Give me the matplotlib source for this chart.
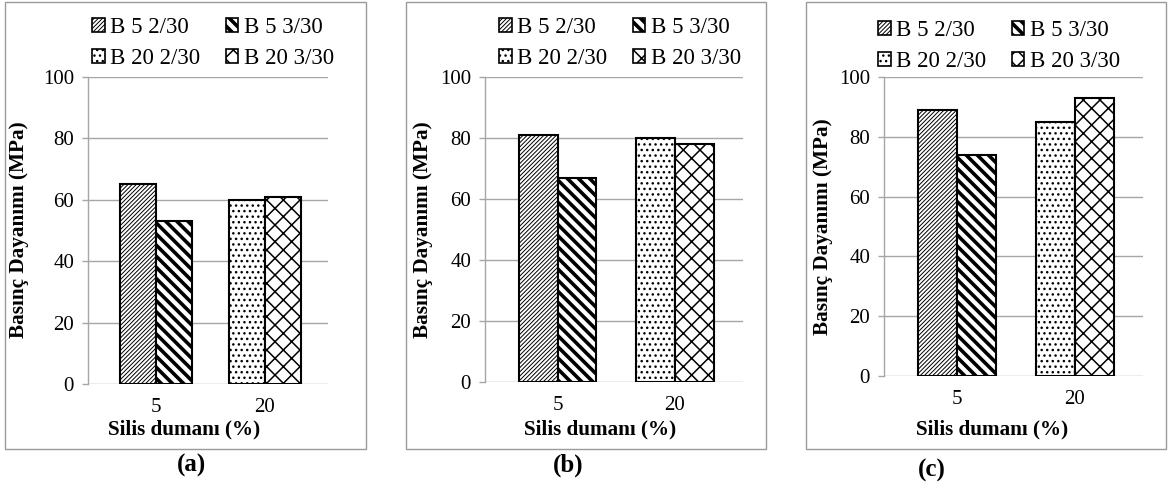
import matplotlib
matplotlib.use('Agg')
import matplotlib.pyplot as plt
from matplotlib.patches import Rectangle

plt.rcParams['font.family'] = ['Liberation Serif', 'DejaVu Serif']

# ---------------- data ----------------
categories = ['5', '20']
series_names = ['B 5 2/30', 'B 5 3/30', 'B 20 2/30', 'B 20 3/30']
panel_labels = ['(a)', '(b)', '(c)']
b5_2_30 = [65, 81, 89]
b5_3_30 = [53, 67, 74]
b20_2_30 = [60, 80, 85]
b20_3_30 = [61, 78, 93]
yticks = [0, 20, 40, 60, 80, 100]
xlabel_text = 'Silis dumanı (%)'
ylabel_text = 'Basınç Dayanımı (MPa)'

# ---------------- layout (pixels) ----------------
W, H = 1168, 488
axes_px = [(88, 328, 77, 384), (485, 743, 77, 382), (884, 1143, 77, 376)]
boxes_px = [(5, 366, 2, 449), (406, 766, 2, 449), (806, 1166, 2, 449)]
legend_center_px = [(213, 43), (620, 43), (999, 46)]
ylabel_px = [(19, 230), (423, 230), (823, 227)]
xlabel_px = [(184, 429), (600, 429), (992, 429)]
caption_px = [(192, 465), (568, 465), (932, 470)]

hatches = ['////////', '\\\\\\', '...', 'xx']
hatch_lws = [0.7, 2.6, 1.0, 1.1]
bar_w = 0.33
grid_col = '#a6a6a6'

fig = plt.figure(figsize=(W / 100, H / 100), dpi=100)

for i in range(3):
    l, r, t, b = axes_px[i]
    ax = fig.add_axes([l / W, 1 - b / H, (r - l) / W, (b - t) / H])
    vals = [b5_2_30[i], b5_3_30[i], b20_2_30[i], b20_3_30[i]]
    xs = [0 - bar_w / 2, 0 + bar_w / 2, 1 - bar_w / 2, 1 + bar_w / 2]
    handles = []
    for k in range(4):
        with plt.rc_context({'hatch.linewidth': hatch_lws[k], 'hatch.color': 'black'}):
            bc = ax.bar(xs[k], vals[k], width=bar_w, color='white', edgecolor='black',
                        linewidth=1.5, hatch=hatches[k], label=series_names[k], zorder=3)
        for p in bc.patches:
            if hasattr(p, 'set_hatch_linewidth'):
                p.set_hatch_linewidth(hatch_lws[k])
        handles.append(bc)
    ax.set_xlim(-0.62, 1.58)
    ax.set_ylim(0, 100)
    ax.set_yticks(yticks)
    ax.set_xticks([0, 1])
    ax.set_xticklabels(categories)
    ax.yaxis.grid(True, color=grid_col, linewidth=1.0, zorder=0)
    ax.set_axisbelow(True)
    for s in ['top', 'right', 'bottom']:
        ax.spines[s].set_visible(False)
    ax.spines['left'].set_color(grid_col)
    ax.spines['left'].set_linewidth(1.0)
    ax.tick_params(axis='y', direction='out', length=4, width=1.0, color=grid_col,
                   labelsize=15, pad=6)
    ax.tick_params(axis='x', length=0, labelsize=15, pad=10)
    ax.set_ylabel(ylabel_text, fontsize=15.3, fontweight='bold', va='center')
    ax.yaxis.set_label_coords(ylabel_px[i][0] / W, 1 - ylabel_px[i][1] / H, transform=fig.transFigure)
    ax.set_xlabel(xlabel_text, fontsize=15.2, fontweight='bold', va='center')
    ax.xaxis.set_label_coords(xlabel_px[i][0] / W, 1 - xlabel_px[i][1] / H, transform=fig.transFigure)

    order = [0, 2, 1, 3]
    leg = ax.legend([handles[j] for j in order], [series_names[j] for j in order],
                    loc='center', ncol=2,
                    bbox_to_anchor=(legend_center_px[i][0] / W, 1 - legend_center_px[i][1] / H),
                    bbox_transform=fig.transFigure, frameon=False, fontsize=16.5,
                    handlelength=0.55, handleheight=0.55, handletextpad=0.25,
                    columnspacing=1.1, labelspacing=0.45, borderpad=0)
    for j, lh in zip(order, leg.legend_handles):
        if hasattr(lh, 'set_hatch_linewidth'):
            lh.set_hatch_linewidth(hatch_lws[j])
        lh.set_linewidth(1.2)

    bx0, bx1, by0, by1 = boxes_px[i]
    fig.add_artist(Rectangle((bx0 / W, 1 - by1 / H), (bx1 - bx0) / W, (by1 - by0) / H,
                             transform=fig.transFigure, fill=False, edgecolor='#9a9a9a',
                             linewidth=1.0))
    fig.text(caption_px[i][0] / W, 1 - caption_px[i][1] / H, panel_labels[i],
             ha='center', va='center', fontsize=18, fontweight='bold')

fig.savefig('out.png', dpi=100)
